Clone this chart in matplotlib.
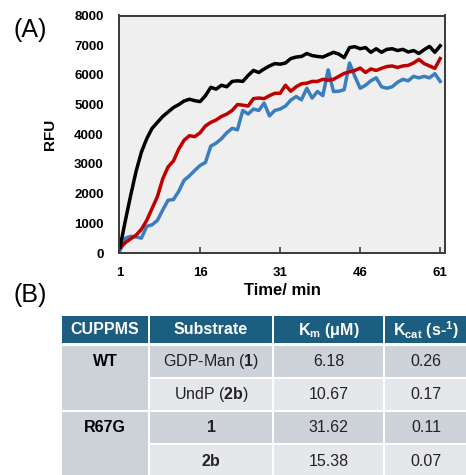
import matplotlib
matplotlib.use("Agg")
import matplotlib.pyplot as plt
from matplotlib.patches import Rectangle

plt.rcParams['font.family'] = ['Liberation Sans', 'DejaVu Sans']
plt.rcParams['mathtext.fontset'] = 'custom'
plt.rcParams['mathtext.rm'] = 'Liberation Sans'
plt.rcParams['mathtext.bf'] = 'Liberation Sans:bold'
plt.rcParams['mathtext.it'] = 'Liberation Sans:italic'

# ---- data (panel A) ----
time_min = list(range(1, 62))
black_rfu = [200, 1100, 1950, 2750, 3400, 3850, 4200, 4400, 4600, 4750,
             4900, 5000, 5120, 5180, 5130, 5100, 5300, 5580, 5520, 5650,
             5600, 5780, 5800, 5780, 5980, 6150, 6080, 6200, 6300, 6380,
             6360, 6400, 6550, 6600, 6620, 6720, 6650, 6620, 6600, 6680,
             6760, 6700, 6580, 6920, 6950, 6880, 6920, 6760, 6880, 6760,
             6860, 6880, 6820, 6860, 6770, 6820, 6720, 6850, 6960, 6760, 6980]
red_rfu = [170, 350, 480, 600, 800, 1100, 1500, 1900, 2500, 2900,
           3100, 3500, 3800, 3950, 3920, 4050, 4280, 4400, 4480, 4600,
           4680, 4800, 5000, 4980, 4950, 5200, 5220, 5200, 5300, 5380,
           5380, 5650, 5450, 5600, 5700, 5720, 5780, 5780, 5850, 5820,
           5850, 5950, 6050, 6100, 6150, 6230, 6080, 6200, 6150, 6220,
           6280, 6300, 6250, 6300, 6320, 6400, 6520, 6380, 6300, 6220, 6550]
blue_rfu = [90, 500, 560, 540, 500, 900, 950, 1100, 1450, 1780,
            1800, 2080, 2450, 2600, 2780, 2950, 3050, 3600, 3700, 3850,
            4050, 4200, 4150, 4800, 4680, 4850, 4800, 5050, 4620, 4800,
            4850, 4950, 5150, 5270, 5160, 5550, 5220, 5440, 5300, 6170,
            5440, 5450, 5500, 6400, 5950, 5550, 5650, 5800, 5900, 5600,
            5550, 5600, 5750, 5850, 5800, 5950, 5900, 5950, 5900, 6040, 5780]
x_ticks = [1, 16, 31, 46, 61]
y_ticks = [0, 1000, 2000, 3000, 4000, 5000, 6000, 7000, 8000]

# ---- data (panel B) ----
header = ["CUPPMS", "Substrate", r"K$_{\mathbf{m}}$ ($\mathbf{\mu}$M)", r"K$_{\mathbf{cat}}$ (s-$^{\mathbf{1}}$)"]
strains = ["WT", "R67G"]
substrates = [r"GDP-Man ($\mathbf{1}$)", r"UndP ($\mathbf{2b}$)", r"$\mathbf{1}$", r"$\mathbf{2b}$"]
km_values = ["6.18", "10.67", "31.62", "15.38"]
kcat_values = ["0.26", "0.17", "0.11", "0.07"]

W, H = 466, 475
fig = plt.figure(figsize=(W / 100, H / 100), dpi=100)

# ---------- panel A ----------
ax = fig.add_axes([119 / W, 1 - 253 / H, 326 / W, 237.5 / H])
ax.set_facecolor('#efefef')
lw = 2.5
ax.plot(time_min, blue_rfu, color='#3a7ebf', lw=lw, solid_joinstyle='round')
ax.plot(time_min, red_rfu, color='#c00000', lw=lw, solid_joinstyle='round')
ax.plot(time_min, black_rfu, color='#000000', lw=lw, solid_joinstyle='round')
ax.set_xlim(0.8, 61.9)
ax.set_ylim(0, 8000)
ax.set_xticks(x_ticks)
ax.set_xticklabels([str(t) for t in x_ticks], fontsize=9.5, fontweight='bold')
ax.set_yticks(y_ticks)
ax.set_yticklabels([str(v) for v in y_ticks], fontsize=9.5, fontweight='bold')
ax.tick_params(axis='x', direction='in', length=4, width=1.2, color='#404040', pad=10)
ax.tick_params(axis='y', length=0, pad=11)
for s in ax.spines.values():
    s.set_color('#3a3a3a')
    s.set_linewidth(1.4)
ax.set_ylabel('RFU', fontsize=11, fontweight='bold', labelpad=12)
ax.set_xlabel('Time/ min', fontsize=12, fontweight='bold', labelpad=3)

# ---------- overlay axes in pixel coords ----------
ov = fig.add_axes([0, 0, 1, 1])
ov.set_xlim(0, W)
ov.set_ylim(H, 0)
ov.axis('off')
ov.patch.set_alpha(0)

ov.text(30, 30, '(A)', fontsize=18, ha='center', va='center')
ov.text(30, 295, '(B)', fontsize=18, ha='center', va='center')

# ---------- panel B table ----------
col_edges = [61, 149, 273, 384, 468]
head_top, head_bot = 316, 343
row_edges = [345, 378, 411, 444, 478]
hdr_color = '#1b5e80'
dark = '#ced2d9'
light = '#e5e7eb'
col1 = '#cdd1d8'
gap = 1.0

for i in range(4):
    x0, x1 = col_edges[i], col_edges[i + 1]
    ov.add_patch(Rectangle((x0 + gap, head_top), x1 - x0 - 2 * gap, head_bot - head_top,
                           facecolor=hdr_color, edgecolor='none'))
    ov.text((x0 + x1) / 2, (head_top + head_bot) / 2 + 0.5, header[i], color='white',
            fontsize=11.5, fontweight='bold', ha='center', va='center')

# merged first column
for k, name in enumerate(strains):
    y0 = row_edges[2 * k]
    y1 = row_edges[2 * k + 2]
    ov.add_patch(Rectangle((col_edges[0] + gap, y0 + gap), col_edges[1] - col_edges[0] - 2 * gap,
                           y1 - y0 - 2 * gap, facecolor=col1, edgecolor='none'))
    ov.text((col_edges[0] + col_edges[1]) / 2, (y0 + row_edges[2 * k + 1]) / 2, name,
            fontsize=11.5, fontweight='bold', ha='center', va='center')

for r in range(4):
    y0, y1 = row_edges[r], row_edges[r + 1]
    fc = dark if r % 2 == 0 else light
    for c in range(1, 4):
        x0, x1 = col_edges[c], col_edges[c + 1]
        ov.add_patch(Rectangle((x0 + gap, y0 + gap), x1 - x0 - 2 * gap, y1 - y0 - 2 * gap,
                               facecolor=fc, edgecolor='none'))
    cy = (y0 + y1) / 2
    ov.text((col_edges[1] + col_edges[2]) / 2, cy, substrates[r], fontsize=11.5,
            ha='center', va='center', color='#222222')
    ov.text((col_edges[2] + col_edges[3]) / 2, cy, km_values[r], fontsize=11.5,
            ha='center', va='center', color='#222222')
    ov.text((col_edges[3] + col_edges[4]) / 2, cy, kcat_values[r], fontsize=11.5,
            ha='center', va='center', color='#222222')

fig.savefig('out.png', dpi=100)
